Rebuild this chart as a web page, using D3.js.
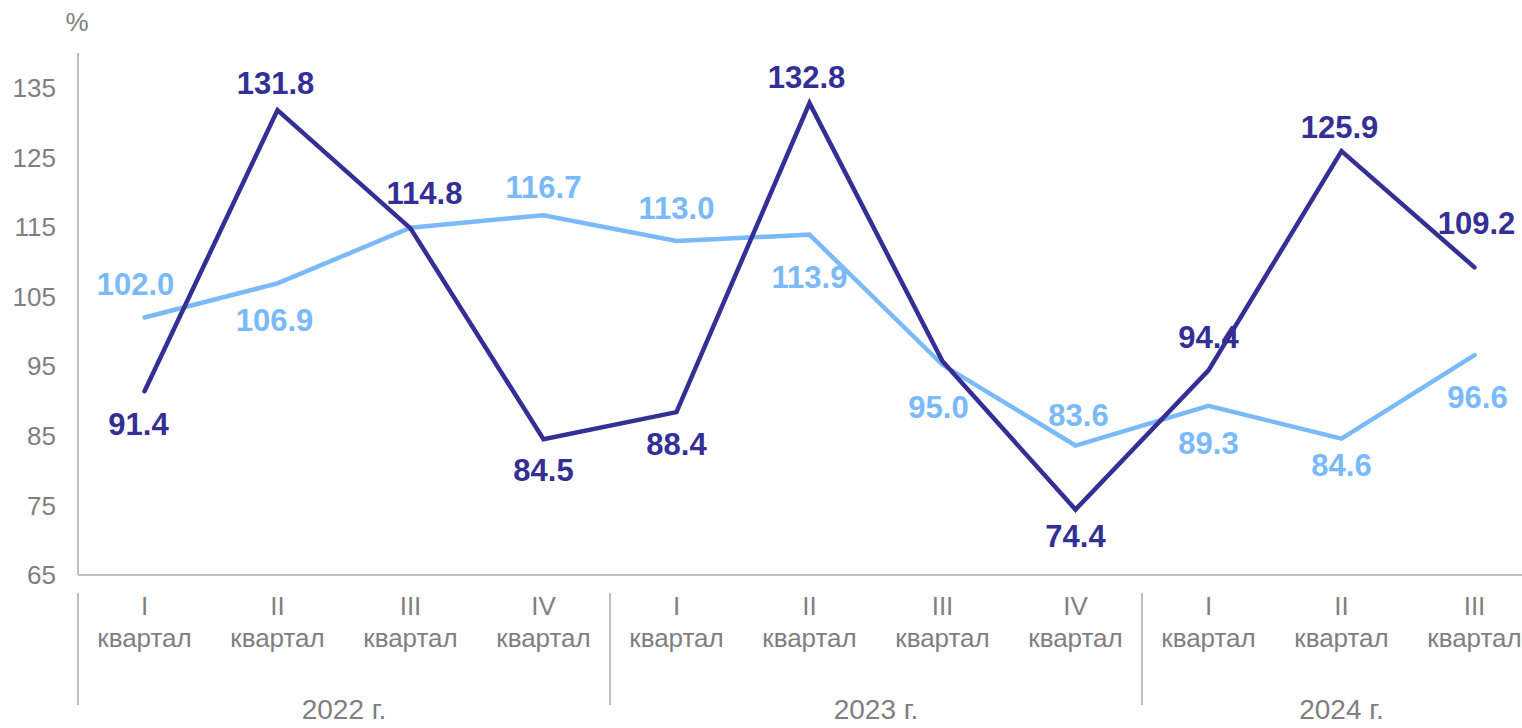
<!DOCTYPE html>
<html>
<head>
<meta charset="utf-8">
<script src="https://d3js.org/d3.v7.min.js"></script>
<style>
  body { margin: 0; background: #fff; }
  svg { display: block; font-family: "Liberation Sans", Arial, sans-serif; }
  .tick-label { fill: #7f7f7f; font-size: 26px; }
  .year-label { fill: #7f7f7f; font-size: 28px; }
  .value { font-size: 31px; font-weight: bold; }
</style>
</head>
<body>
<script>
// данные
var quarters = ["I", "II", "III", "IV", "I", "II", "III", "IV", "I", "II", "III"];
var years = ["2022 г.", "2023 г.", "2024 г."];
var yearQuarters = [4, 4, 3];
var darkValues = [91.4, 131.8, 114.8, 84.5, 88.4, 132.8, 95.7, 74.4, 94.4, 125.9, 109.2];
var lightValues = [102.0, 106.9, 114.9, 116.7, 113.0, 113.9, 95.2, 83.6, 89.3, 84.6, 96.6];
var darkLabels = ["91.4", "131.8", "114.8", "84.5", "88.4", "132.8", "", "74.4", "94.4", "125.9", "109.2"];
var lightLabels = ["102.0", "106.9", "", "116.7", "113.0", "113.9", "95.0", "83.6", "89.3", "84.6", "96.6"];
var yTicks = [65, 75, 85, 95, 105, 115, 125, 135];

// смещения подписей (пиксели)
var darkOffsets = [[-6, 33], [-2, -27], [14, -35], [0, 31], [0, 32], [-3, -26], [0, 0], [0, 27], [0, -33], [-2, -24], [2, -44]];
var lightOffsets = [[-9, -33], [-3, 37], [0, 0], [0, -28], [0, -33], [0, 42], [-4, 42], [3, -30], [0, 37], [0, 27], [3, 42]];

var width = 1522, height = 728;
var plotLeft = 78, plotBottom = 575, plotTop = 53;
var step = 133;

var svg = d3.select("body").append("svg")
    .attr("width", width)
    .attr("height", height);

var x = d3.scaleBand()
    .domain(d3.range(quarters.length))
    .range([plotLeft, plotLeft + step * quarters.length])
    .padding(0);

var y = d3.scaleLinear()
    .domain([65, 140])
    .range([plotBottom, plotTop]);

var cx = function(i) { return x(i) + x.bandwidth() / 2; };

// оси
svg.append("line")
    .attr("x1", plotLeft).attr("x2", plotLeft)
    .attr("y1", y(140)).attr("y2", plotBottom)
    .attr("stroke", "#bfbfbf").attr("stroke-width", 2);
svg.append("line")
    .attr("x1", plotLeft).attr("x2", width)
    .attr("y1", plotBottom).attr("y2", plotBottom)
    .attr("stroke", "#bfbfbf").attr("stroke-width", 2);

svg.selectAll(".ylab")
    .data(yTicks)
  .enter().append("text")
    .attr("class", "tick-label")
    .attr("x", 56)
    .attr("y", function(d) { return y(d); })
    .attr("dy", "0.35em")
    .attr("text-anchor", "end")
    .text(function(d) { return d; });

svg.append("text")
    .attr("class", "tick-label")
    .attr("x", 77).attr("y", 22)
    .attr("dy", "0.35em")
    .attr("text-anchor", "middle")
    .text("%");

// подписи кварталов
var qg = svg.selectAll(".q")
    .data(quarters)
  .enter().append("g")
    .attr("transform", function(d, i) { return "translate(" + cx(i) + ",0)"; });
qg.append("text")
    .attr("class", "tick-label")
    .attr("y", 606).attr("dy", "0.35em")
    .attr("text-anchor", "middle")
    .text(function(d) { return d; });
qg.append("text")
    .attr("class", "tick-label")
    .attr("y", 638).attr("dy", "0.35em")
    .attr("text-anchor", "middle")
    .text("квартал");

// годы и разделители
var start = 0;
years.forEach(function(yr, k) {
    var x0 = x(start);
    var x1 = x(start + yearQuarters[k] - 1) + x.bandwidth();
    svg.append("line")
        .attr("x1", x0).attr("x2", x0)
        .attr("y1", 593).attr("y2", 705)
        .attr("stroke", "#bfbfbf").attr("stroke-width", 2);
    svg.append("text")
        .attr("class", "year-label")
        .attr("x", (x0 + x1) / 2).attr("y", 709)
        .attr("dy", "0.35em")
        .attr("text-anchor", "middle")
        .text(yr);
    start += yearQuarters[k];
});

// линии
var line = d3.line()
    .x(function(d, i) { return cx(i); })
    .y(function(d) { return y(d); });

var series = [
    { values: lightValues, labels: lightLabels, offsets: lightOffsets, color: "#7ab9fa" },
    { values: darkValues, labels: darkLabels, offsets: darkOffsets, color: "#342f94" }
];

series.forEach(function(s) {
    svg.append("path")
        .datum(s.values)
        .attr("d", line)
        .attr("fill", "none")
        .attr("stroke", s.color)
        .attr("stroke-width", 4.5)
        .attr("stroke-linecap", "round")
        .attr("stroke-linejoin", "miter");
});

series.forEach(function(s) {
    svg.selectAll(null)
        .data(s.values)
      .enter().append("text")
        .attr("class", "value")
        .attr("fill", s.color)
        .attr("text-anchor", "middle")
        .attr("x", function(d, i) { return cx(i) + s.offsets[i][0]; })
        .attr("y", function(d, i) { return y(d) + s.offsets[i][1]; })
        .attr("dy", "0.35em")
        .text(function(d, i) { return s.labels[i]; });
});
</script>
</body>
</html>
